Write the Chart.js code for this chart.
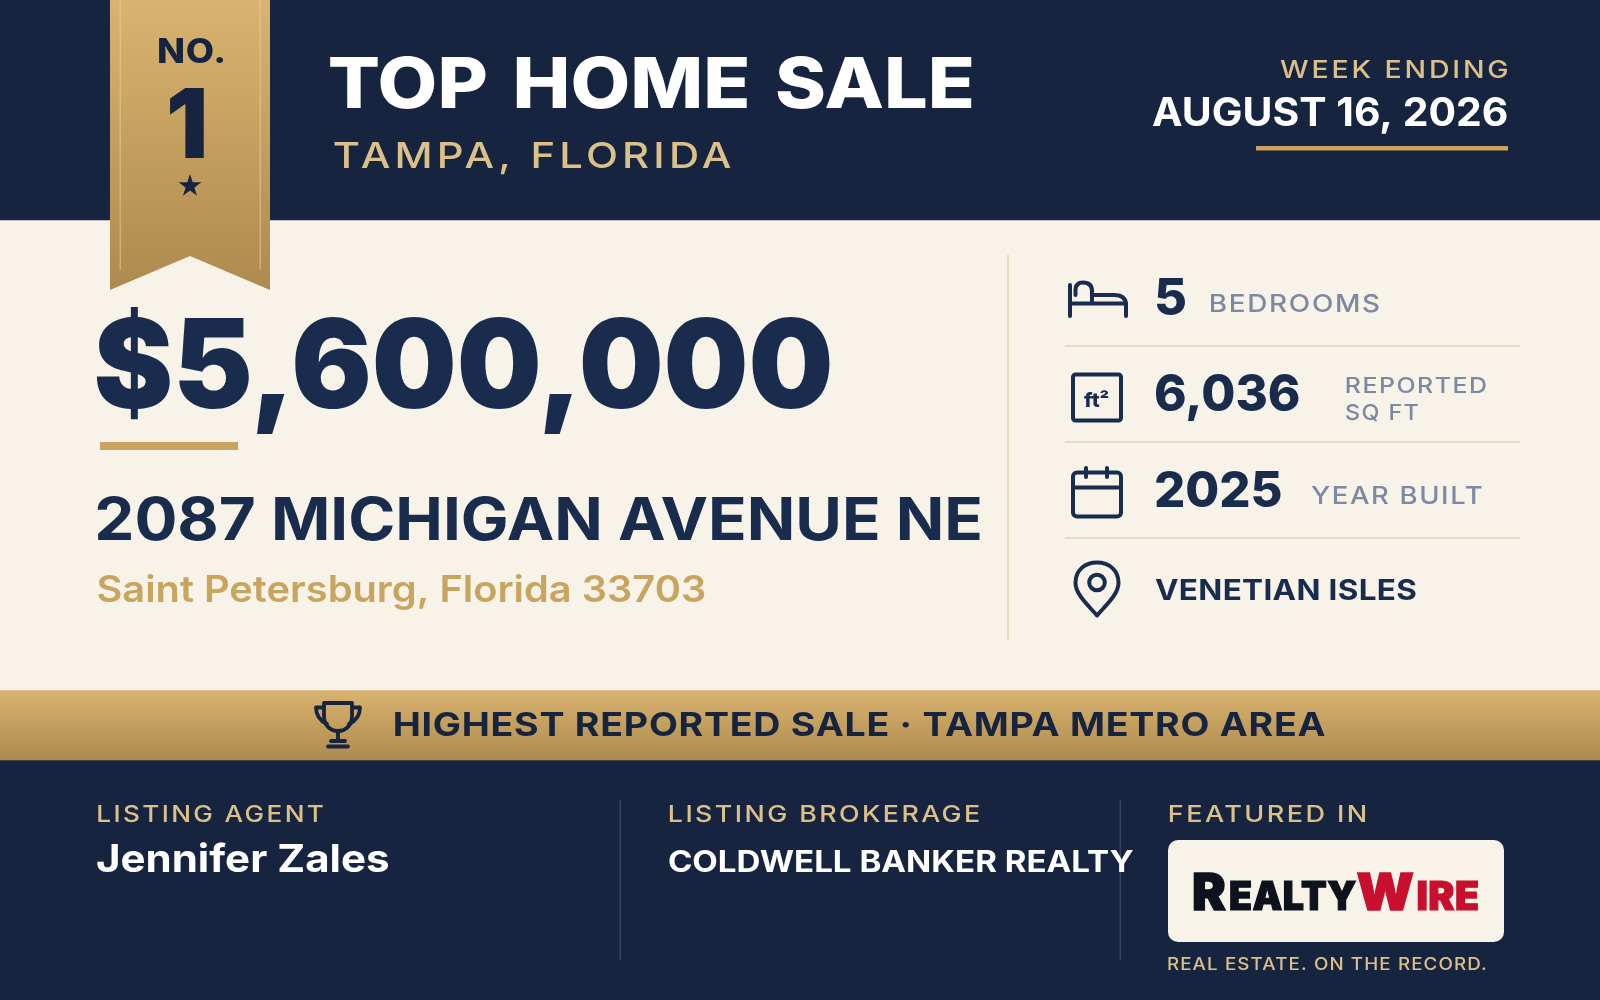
<!DOCTYPE html>
<html>
<head>
<meta charset="utf-8">
<title>Top Home Sale</title>
<script src="https://cdn.jsdelivr.net/npm/chart.js@4/dist/chart.umd.min.js"></script>
<style>
  html, body { margin: 0; padding: 0; background: #17243f; }
  canvas { display: block; }
</style>
</head>
<body>
<canvas id="sale-card" width="1600" height="1000"></canvas>
<script>
// text of the card
const badge = ['NO.', '1'];
const headline = ['TOP HOME SALE', 'TAMPA, FLORIDA'];
const weekEnding = ['WEEK ENDING', 'AUGUST 16, 2026'];
const salePrice = ['$5,600,000'];
const address = ['2087 MICHIGAN AVENUE NE', 'Saint Petersburg, Florida 33703'];
const statValues = ['5', '6,036', '2025', 'VENETIAN ISLES'];
const statLabels = ['BEDROOMS', 'REPORTED', 'SQ FT', 'YEAR BUILT'];
const banner = ['HIGHEST REPORTED SALE · TAMPA METRO AREA'];
const footerHeads = ['LISTING AGENT', 'LISTING BROKERAGE', 'FEATURED IN'];
const footerNames = ['Jennifer Zales', 'COLDWELL BANKER REALTY'];
const logoParts = ['R', 'EALTY', 'W', 'IRE'];
const tagline = ['REAL ESTATE. ON THE RECORD.'];

const NAVY = '#17243f', INK = '#192c4d', CREAM = '#f7f3e8', GOLD = '#c9a45f', SAND = '#dcc089', SLATE = '#7d88a1';
const FONT = 'Inter, "Noto Sans", sans-serif';

function goldGradient(ctx, top, bottom) {
  let g = ctx.createLinearGradient(0, top, 0, bottom);
  g.addColorStop(0, '#d9b36f');
  g.addColorStop(1, '#ad8a4e');
  return g;
}

// puts text so its ink runs from x0 to x1 with the given cap height
function put(ctx, text, x0, x1, base, cap, weight, color, track, words, thick) {
  ctx.save();
  ctx.textBaseline = 'alphabetic';
  ctx.textAlign = 'left';
  ctx.font = weight + ' 100px ' + FONT;
  let ratio = ctx.measureText('H').actualBoundingBoxAscent / 100;
  let size = cap / ratio;
  ctx.font = weight + ' ' + size + 'px ' + FONT;
  ctx.letterSpacing = (track || 0) * size + 'px';
  ctx.wordSpacing = (words || 0) * size + 'px';
  let m = ctx.measureText(text);
  let sx = (x1 - x0) / (m.actualBoundingBoxLeft + m.actualBoundingBoxRight);
  ctx.translate(x0 + m.actualBoundingBoxLeft * sx, base);
  ctx.scale(sx, 1);
  ctx.fillStyle = color;
  ctx.fillText(text, 0, 0);
  if (thick) {
    ctx.strokeStyle = color;
    ctx.lineWidth = thick;
    ctx.lineJoin = 'miter';
    ctx.strokeText(text, 0, 0);
  }
  ctx.restore();
}

function line(ctx, pts) {
  ctx.beginPath();
  pts.forEach((p, i) => i ? ctx.lineTo(p[0], p[1]) : ctx.moveTo(p[0], p[1]));
  ctx.stroke();
}

function drawRibbon(ctx) {
  ctx.fillStyle = goldGradient(ctx, 0, 290);
  ctx.beginPath();
  ctx.moveTo(110, 0); ctx.lineTo(270, 0); ctx.lineTo(270, 290);
  ctx.lineTo(190, 256); ctx.lineTo(110, 290);
  ctx.closePath();
  ctx.fill();
  ctx.fillStyle = 'rgba(240,215,165,0.45)';
  ctx.fillRect(119.5, 0, 1.5, 270);
  ctx.fillRect(259.5, 0, 1.5, 270);
  put(ctx, badge[0], 158, 223, 62.5, 24.5, 800, NAVY, 0.02);
  put(ctx, badge[1], 170, 204, 158, 70, 900, NAVY);
  // star
  ctx.fillStyle = NAVY;
  ctx.beginPath();
  for (let i = 0; i < 10; i++) {
    let r = i % 2 ? 4.6 : 12, a = -Math.PI / 2 + i * Math.PI / 5;
    let px = 190 + r * Math.cos(a), py = 186 + r * Math.sin(a);
    i ? ctx.lineTo(px, py) : ctx.moveTo(px, py);
  }
  ctx.closePath();
  ctx.fill();
}

function drawIcons(ctx) {
  ctx.strokeStyle = INK;
  ctx.lineWidth = 4;
  ctx.lineCap = 'round';
  ctx.lineJoin = 'round';
  // bed
  line(ctx, [[1070, 285], [1070, 316]]);
  line(ctx, [[1070, 303.5], [1126, 303.5]]);
  line(ctx, [[1126, 316], [1126, 303.5]]);
  ctx.beginPath();
  ctx.moveTo(1075.5, 295); ctx.lineTo(1075.5, 290);
  ctx.quadraticCurveTo(1075.5, 282.5, 1083, 282.5);
  ctx.quadraticCurveTo(1092, 282.5, 1092, 291);
  ctx.lineTo(1092, 303);
  ctx.moveTo(1093, 295); ctx.lineTo(1114, 295);
  ctx.quadraticCurveTo(1126, 295, 1126, 305);
  ctx.stroke();
  // square feet box
  ctx.beginPath();
  ctx.roundRect(1073, 374.5, 48, 46, 2.5);
  ctx.stroke();
  put(ctx, 'ft²', 1084, 1109, 406.5, 14.5, 800, INK);
  // calendar
  ctx.beginPath();
  ctx.roundRect(1073, 472.5, 48, 44, 4);
  ctx.moveTo(1073, 487.5); ctx.lineTo(1121, 487.5);
  ctx.moveTo(1086, 468); ctx.lineTo(1086, 477);
  ctx.moveTo(1107, 468); ctx.lineTo(1107, 477);
  ctx.stroke();
  // map pin
  ctx.beginPath();
  ctx.moveTo(1097, 615.5);
  ctx.bezierCurveTo(1090, 607, 1075.5, 595, 1075.5, 583);
  ctx.bezierCurveTo(1075.5, 570, 1085, 562.5, 1097, 562.5);
  ctx.bezierCurveTo(1109, 562.5, 1118.5, 570, 1118.5, 583);
  ctx.bezierCurveTo(1118.5, 595, 1104, 607, 1097, 615.5);
  ctx.closePath();
  ctx.stroke();
  ctx.beginPath();
  ctx.arc(1097, 582.5, 7.8, 0, Math.PI * 2);
  ctx.stroke();
  // trophy
  ctx.strokeStyle = NAVY;
  ctx.lineWidth = 3.8;
  ctx.beginPath();
  ctx.moveTo(324, 703); ctx.lineTo(352, 703); ctx.lineTo(352, 716);
  ctx.bezierCurveTo(352, 725, 346, 731, 338, 731);
  ctx.bezierCurveTo(330, 731, 324, 725, 324, 716);
  ctx.closePath();
  ctx.stroke();
  ctx.beginPath();
  ctx.moveTo(323, 707.5); ctx.lineTo(316, 707.5);
  ctx.quadraticCurveTo(316, 719, 327, 724);
  ctx.moveTo(353, 707.5); ctx.lineTo(360, 707.5);
  ctx.quadraticCurveTo(360, 719, 349, 724);
  ctx.moveTo(338, 731); ctx.lineTo(338, 741);
  ctx.moveTo(331, 741); ctx.lineTo(345, 741);
  ctx.moveTo(328, 746.5); ctx.lineTo(348, 746.5);
  ctx.stroke();
}

const cardPlugin = {
  id: 'saleCard',
  afterDatasetsDraw(chart) {
    let ctx = chart.ctx;
    drawRibbon(ctx);

    // header
    put(ctx, headline[0], 330, 972, 108, 51, 800, '#ffffff', 0, 0.1);
    put(ctx, headline[1], 334, 731, 168, 26, 500, SAND, 0.1);
    put(ctx, weekEnding[0], 1280, 1507, 78, 18, 500, SAND, 0.1);
    put(ctx, weekEnding[1], 1152, 1507, 126, 28.5, 700, '#ffffff');
    ctx.fillStyle = GOLD;
    ctx.fillRect(1256, 146, 252, 4.5);

    // price and address
    put(ctx, salePrice[0], 96.5, 830, 408, 90, 900, INK);
    ctx.fillStyle = GOLD;
    ctx.fillRect(100, 442, 138, 8);
    put(ctx, address[0], 97.5, 980, 540, 43, 700, INK);
    put(ctx, address[1], 97.5, 705, 601.5, 26.5, 600, GOLD);

    // stats column
    ctx.fillStyle = '#e0d8c0';
    ctx.fillRect(1007, 255, 2, 385);
    ctx.fillStyle = '#e6dcc6';
    [345, 441, 537].forEach(y => ctx.fillRect(1065, y, 455, 2));
    drawIcons(ctx);
    put(ctx, statValues[0], 1156, 1185, 315, 37, 800, INK);
    put(ctx, statLabels[0], 1210, 1379, 312, 18, 500, SLATE, 0.06);
    put(ctx, statValues[1], 1156, 1299, 411, 37, 800, INK);
    put(ctx, statLabels[1], 1346, 1486, 392.5, 16, 500, SLATE, 0.06);
    put(ctx, statLabels[2], 1346, 1418.5, 420, 16, 500, SLATE, 0.06);
    put(ctx, statValues[2], 1156, 1281.5, 506.5, 36, 800, INK);
    put(ctx, statLabels[3], 1311, 1481.5, 504, 18, 500, SLATE, 0.06);
    put(ctx, statValues[3], 1155, 1416, 600, 21, 700, INK, 0.01);

    // banner
    put(ctx, banner[0], 395, 1325.5, 735.5, 23.5, 700, NAVY, 0.02);

    // footer
    ctx.fillStyle = '#33435f';
    ctx.fillRect(619.5, 800, 1.5, 160);
    ctx.fillRect(1119.5, 800, 1.5, 160);
    put(ctx, footerHeads[0], 97.5, 323, 822, 16.5, 500, SAND, 0.09);
    put(ctx, footerHeads[1], 669, 979.5, 822, 16.5, 500, SAND, 0.09);
    put(ctx, footerHeads[2], 1169, 1366, 822, 16.5, 500, SAND, 0.09);
    put(ctx, footerNames[0], 97, 389, 871.5, 28, 700, '#ffffff');
    put(ctx, footerNames[1], 669, 1133, 871.5, 21.5, 700, '#ffffff');

    // logo plate
    ctx.fillStyle = CREAM;
    ctx.beginPath();
    ctx.roundRect(1168, 840, 336, 102, 10);
    ctx.fill();
    put(ctx, logoParts[0], 1194, 1226, 909.5, 37, 900, '#0d121c', 0, 0, 1.4);
    put(ctx, logoParts[1], 1230, 1356, 909.5, 28.5, 900, '#0d121c', 0.01, 0, 1.2);
    put(ctx, logoParts[2], 1357.5, 1413, 909.5, 37, 900, '#c8102e', 0, 0, 1.4);
    put(ctx, logoParts[3], 1417.5, 1478, 909.5, 28.5, 900, '#c8102e', 0.01, 0, 1.2);
    put(ctx, tagline[0], 1168, 1485.5, 970, 12.5, 500, SAND, 0.06);
  }
};

// page bands are a single stacked column running the full canvas
new Chart(document.getElementById('sale-card'), {
  type: 'bar',
  data: {
    labels: ['card'],
    datasets: [
      { label: 'header', data: [220], backgroundColor: NAVY },
      { label: 'body', data: [470], backgroundColor: CREAM },
      { label: 'banner', data: [70], backgroundColor: c => goldGradient(c.chart.ctx, 690, 760) },
      { label: 'footer', data: [240], backgroundColor: NAVY }
    ]
  },
  options: {
    responsive: false,
    animation: false,
    devicePixelRatio: 1,
    barPercentage: 1,
    categoryPercentage: 1,
    layout: { padding: 0 },
    plugins: { legend: { display: false }, tooltip: { enabled: false } },
    scales: {
      x: { stacked: true, display: false },
      y: { stacked: true, display: false, reverse: true, min: 0, max: 1000 }
    }
  },
  plugins: [cardPlugin]
});
</script>
</body>
</html>
